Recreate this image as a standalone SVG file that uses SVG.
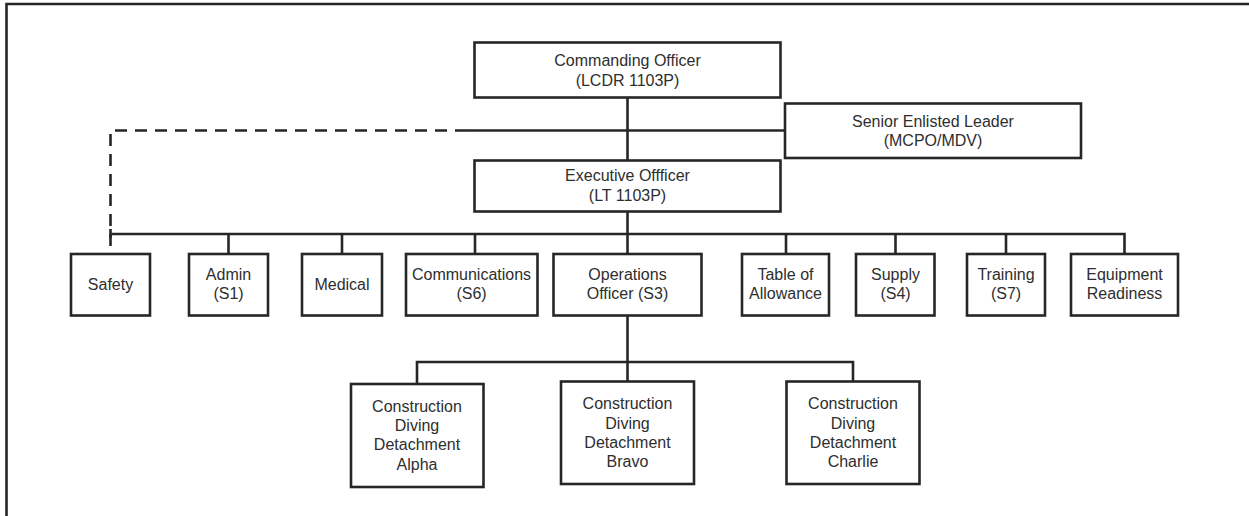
<svg xmlns="http://www.w3.org/2000/svg" width="1249" height="516" viewBox="0 0 1249 516">
<style>
.box{fill:#fff;stroke:#262626;stroke-width:2.6}
.ln{fill:none;stroke:#262626;stroke-width:2.6}
.dash{fill:none;stroke:#262626;stroke-width:2.6;stroke-dasharray:12 8}
text{font-family:"Liberation Sans",Arial,sans-serif;font-size:16px;fill:#2e2e2e;text-anchor:middle}
</style>
<rect width="1249" height="516" fill="#fff"/>
<g id="frame">
<path class="ln" d="M6.5,516 V4 H1249" stroke-width="3"/>
</g>
<g id="connectors">
<path class="ln" d="M627.5,97 V160.5"/>
<path class="ln" d="M467,130.5 H785"/>
<path class="dash" d="M467,130.5 H110.5 V254"/>
<path class="ln" d="M110.5,229 V238"/>
<path class="ln" d="M627.5,211.5 V254"/>
<path class="ln" d="M110.5,234 H1124.5 V254"/>
<path class="ln" d="M228.5,234 V254"/>
<path class="ln" d="M342,234 V254"/>
<path class="ln" d="M475,234 V254"/>
<path class="ln" d="M786,234 V254"/>
<path class="ln" d="M895.5,234 V254"/>
<path class="ln" d="M1006,234 V254"/>
<path class="ln" d="M627.5,315 V381.5"/>
<path class="ln" d="M417,384 V362 H853 V381.5"/>
</g>
<g id="co">
<rect class="box" x="474.5" y="42.5" width="306" height="55"/>
<text x="627.5" y="65.5">Commanding Officer</text>
<text x="627.5" y="85.5">(LCDR 1103P)</text>
</g>
<g id="sel">
<rect class="box" x="785" y="103.5" width="296" height="54.5"/>
<text x="933" y="126.5">Senior Enlisted Leader</text>
<text x="933" y="146">(MCPO/MDV)</text>
</g>
<g id="xo">
<rect class="box" x="474.5" y="160.5" width="306" height="51"/>
<text x="627.5" y="181">Executive Offficer</text>
<text x="627.5" y="201">(LT 1103P)</text>
</g>
<g id="safety">
<rect class="box" x="71" y="254" width="79" height="61.5"/>
<text x="110.5" y="290">Safety</text>
</g>
<g id="admin">
<rect class="box" x="189" y="254" width="79" height="61.5"/>
<text x="228.5" y="280">Admin</text>
<text x="228.5" y="299">(S1)</text>
</g>
<g id="medical">
<rect class="box" x="302" y="254" width="80" height="61.5"/>
<text x="342" y="290">Medical</text>
</g>
<g id="comms">
<rect class="box" x="406" y="254" width="131.5" height="61.5"/>
<text x="471.5" y="280">Communications</text>
<text x="471.5" y="299">(S6)</text>
</g>
<g id="ops">
<rect class="box" x="553.5" y="254" width="148" height="61.5"/>
<text x="627.5" y="280">Operations</text>
<text x="627.5" y="299">Officer (S3)</text>
</g>
<g id="toa">
<rect class="box" x="742" y="254" width="87" height="61.5"/>
<text x="785.5" y="280">Table of</text>
<text x="785.5" y="299">Allowance</text>
</g>
<g id="supply">
<rect class="box" x="856" y="254" width="78.5" height="61.5"/>
<text x="895.5" y="280">Supply</text>
<text x="895.5" y="299">(S4)</text>
</g>
<g id="training">
<rect class="box" x="967" y="254" width="78" height="61.5"/>
<text x="1006" y="280">Training</text>
<text x="1006" y="299">(S7)</text>
</g>
<g id="equipment">
<rect class="box" x="1071" y="254" width="107" height="61.5"/>
<text x="1124.5" y="280">Equipment</text>
<text x="1124.5" y="299">Readiness</text>
</g>
<g id="alpha">
<rect class="box" x="351" y="384" width="132.5" height="103"/>
<text x="417" y="411.5">Construction</text>
<text x="417" y="431">Diving</text>
<text x="417" y="450">Detachment</text>
<text x="417" y="469.5">Alpha</text>
</g>
<g id="bravo">
<rect class="box" x="561" y="381.5" width="133" height="102.5"/>
<text x="627.5" y="409">Construction</text>
<text x="627.5" y="428.5">Diving</text>
<text x="627.5" y="447.5">Detachment</text>
<text x="627.5" y="466.5">Bravo</text>
</g>
<g id="charlie">
<rect class="box" x="786.5" y="381.5" width="133" height="102.5"/>
<text x="853" y="409">Construction</text>
<text x="853" y="428.5">Diving</text>
<text x="853" y="447.5">Detachment</text>
<text x="853" y="466.5">Charlie</text>
</g>
</svg>
